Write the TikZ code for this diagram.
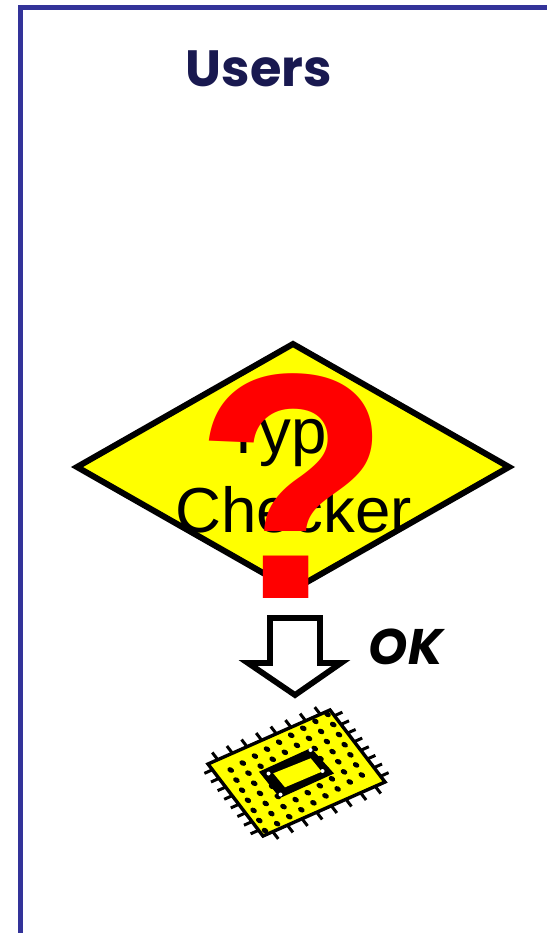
\documentclass[tikz,border=0pt]{standalone}
\usepackage{fontspec}
\setmainfont{Liberation Sans}
\newfontfamily\comicfont{Poppins}
\definecolor{frameblue}{HTML}{333399}
\definecolor{titlenavy}{HTML}{191950}
\definecolor{signyellow}{HTML}{FFFF00}
\tikzset{
  framerule/.style={draw=frameblue,line width=5pt,line cap=butt},
  checkerbox/.style={draw=black,fill=signyellow,line width=6pt,line join=miter},
  hollowarrow/.style={draw=black,fill=white,line width=5.8pt,line join=miter},
  chipbody/.style={draw=black,fill=signyellow,line width=3.4pt,line join=miter},
  chippin/.style={draw=black,line width=3pt},
  chipdot/.style={fill=black,draw=none},
  title/.style={inner sep=0pt,text=titlenavy,font=\comicfont\bfseries\fontsize{51}{60}\selectfont},
  oklabel/.style={inner sep=0pt,text=black,font=\comicfont\bfseries\itshape\fontsize{50}{60}\selectfont},
  checkertext/.style={inner sep=0pt,text=black,font=\fontsize{63.6}{79}\selectfont},
  querymark/.style={inner sep=0pt,text=red,font=\bfseries\fontsize{322}{322}\selectfont}
}
\begin{document}
\begin{tikzpicture}[x=1pt,y=-1pt]
\useasboundingbox (0,0) rectangle (547,933);
\fill[white] (0,0) rectangle (547,933);
% frame
\draw[framerule] (20.8,933) -- (20.8,7.5) -- (547,7.5);
% title
\node[title,anchor=base] (users) at (259,87) {Users};
% diamond
\draw[checkerbox] (293,344) -- (509,467) -- (293,590) -- (77,467) -- cycle;
\node[checkertext,anchor=base] (type) at (293,453) {Type};
\node[checkertext,anchor=base] (checker) at (293.5,532) {Checker};
\node[querymark,anchor=base] (query) at (293,598) {?};
% arrow
\draw[hollowarrow] (270,618) -- (320,618) -- (320,663) -- (341,663) -- (295,695) -- (248,663) -- (270,663) -- cycle;
\node[oklabel,anchor=base] (ok) at (406,664) {OK};
% chip pins
\foreach \i in {0,...,7}{
  \pgfmathsetmacro{\t}{0.08+\i*0.12}
  % top edge
  \pgfmathsetmacro{\bx}{208+\t*122}\pgfmathsetmacro{\by}{764-\t*54}
  \draw[chippin] (\bx,\by) -- (\bx-5.5,\by-7.2);
  % bottom edge
  \pgfmathsetmacro{\bx}{263+\t*122}\pgfmathsetmacro{\by}{836-\t*54}
  \draw[chippin] (\bx,\by) -- (\bx+5.5,\by+7.2);
  % left edge
  \pgfmathsetmacro{\bx}{208+\t*55}\pgfmathsetmacro{\by}{764+\t*72}
  \draw[chippin] (\bx,\by) -- (\bx-8,\by+3.6);
  % right edge
  \pgfmathsetmacro{\bx}{330+\t*55}\pgfmathsetmacro{\by}{710+\t*72}
  \draw[chippin] (\bx,\by) -- (\bx+8,\by-3.6);
}
% chip body
\draw[chipbody] (208,764) -- (330,710) -- (385,782) -- (263,836) -- cycle;
% chip dots
\foreach \r in {0,...,6}{
  \foreach \c in {0,...,8}{
    \pgfmathsetmacro{\dx}{230.7+\c*12.1+\r*5.72}
    \pgfmathsetmacro{\dy}{770-\c*6.95+\r*10.1}
    \fill[chipdot,rotate around={-28:(\dx,\dy)}] (\dx,\dy) ellipse (3.5pt and 2.6pt);
  }
}
% chip window
\fill[black] (259,771.7) -- (311,748) -- (334,773.5) -- (280,798) -- cycle;
\fill[signyellow] (273.3,773.3) -- (310.7,758.3) -- (321.7,771.7) -- (285,787.3) -- cycle;
\fill[white] (268.5,773.5) circle (2pt) (310.5,750) circle (2pt) (322.5,771) circle (2pt) (280.5,794.5) circle (2pt);
\end{tikzpicture}
\end{document}
